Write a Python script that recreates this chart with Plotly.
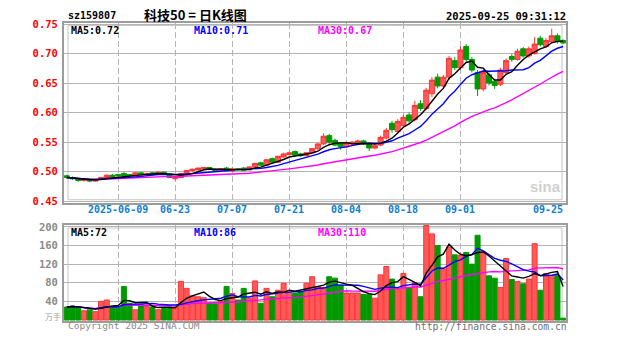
import pandas as pd
import plotly.graph_objects as go

W, H = 627, 342

# Trading calendar: weekdays from 26 May to 25 Sep 2025, market closed on 2 June
dates = [d.strftime("%Y-%m-%d") for d in pd.bdate_range("2025-05-26", "2025-09-25")
         if d.strftime("%Y-%m-%d") != "2025-06-02"]

open_ = [0.493, 0.490, 0.488, 0.485, 0.487, 0.484, 0.487, 0.490, 0.494, 0.495,
         0.497, 0.495, 0.494, 0.498, 0.495, 0.498, 0.496, 0.499, 0.496, 0.488,
         0.490, 0.497, 0.502, 0.503, 0.505, 0.507, 0.504, 0.502, 0.506, 0.501,
         0.505, 0.506, 0.503, 0.508, 0.515, 0.511, 0.522, 0.516, 0.525, 0.529,
         0.534, 0.530, 0.527, 0.532, 0.539, 0.547, 0.561, 0.553, 0.548, 0.542,
         0.547, 0.549, 0.552, 0.547, 0.540, 0.545, 0.557, 0.582, 0.568, 0.578,
         0.596, 0.588, 0.615, 0.607, 0.632, 0.660, 0.645, 0.660, 0.688, 0.676,
         0.712, 0.690, 0.668, 0.640, 0.664, 0.653, 0.648, 0.668, 0.695, 0.690,
         0.708, 0.696, 0.700, 0.726, 0.712, 0.720, 0.730, 0.722]
high = [0.495, 0.492, 0.489, 0.488, 0.488, 0.488, 0.491, 0.495, 0.496, 0.496,
        0.499, 0.496, 0.499, 0.499, 0.498, 0.499, 0.500, 0.500, 0.497, 0.491,
        0.498, 0.503, 0.505, 0.507, 0.508, 0.508, 0.505, 0.506, 0.508, 0.507,
        0.506, 0.508, 0.509, 0.515, 0.517, 0.521, 0.524, 0.527, 0.532, 0.534,
        0.536, 0.532, 0.533, 0.540, 0.548, 0.565, 0.564, 0.556, 0.550, 0.551,
        0.552, 0.554, 0.554, 0.549, 0.546, 0.561, 0.574, 0.586, 0.589, 0.596,
        0.600, 0.620, 0.621, 0.642, 0.660, 0.666, 0.664, 0.696, 0.694, 0.712,
        0.716, 0.694, 0.672, 0.672, 0.668, 0.656, 0.676, 0.692, 0.699, 0.708,
        0.711, 0.712, 0.728, 0.730, 0.726, 0.742, 0.734, 0.724]
low = [0.488, 0.486, 0.483, 0.483, 0.482, 0.483, 0.486, 0.489, 0.491, 0.492,
       0.491, 0.493, 0.493, 0.494, 0.494, 0.495, 0.495, 0.495, 0.489, 0.485,
       0.489, 0.496, 0.500, 0.502, 0.504, 0.503, 0.501, 0.501, 0.500, 0.499,
       0.502, 0.501, 0.502, 0.507, 0.510, 0.510, 0.515, 0.515, 0.523, 0.527,
       0.526, 0.525, 0.526, 0.531, 0.537, 0.545, 0.546, 0.543, 0.537, 0.541,
       0.545, 0.547, 0.545, 0.535, 0.538, 0.543, 0.555, 0.566, 0.566, 0.574,
       0.582, 0.585, 0.603, 0.604, 0.626, 0.641, 0.640, 0.655, 0.672, 0.673,
       0.686, 0.668, 0.628, 0.636, 0.646, 0.640, 0.645, 0.665, 0.686, 0.688,
       0.693, 0.693, 0.698, 0.712, 0.710, 0.718, 0.717, 0.716]
close = [0.490, 0.488, 0.485, 0.487, 0.484, 0.487, 0.490, 0.494, 0.492, 0.493,
         0.493, 0.494, 0.498, 0.495, 0.497, 0.496, 0.499, 0.496, 0.490, 0.490,
         0.497, 0.502, 0.504, 0.506, 0.507, 0.504, 0.502, 0.505, 0.501, 0.505,
         0.503, 0.502, 0.508, 0.514, 0.511, 0.520, 0.516, 0.526, 0.530, 0.532,
         0.528, 0.527, 0.532, 0.539, 0.547, 0.560, 0.550, 0.545, 0.542, 0.549,
         0.550, 0.552, 0.547, 0.540, 0.544, 0.558, 0.570, 0.571, 0.585, 0.592,
         0.586, 0.612, 0.607, 0.638, 0.655, 0.645, 0.660, 0.692, 0.676, 0.706,
         0.690, 0.672, 0.640, 0.668, 0.650, 0.646, 0.672, 0.688, 0.690, 0.704,
         0.696, 0.708, 0.716, 0.715, 0.722, 0.730, 0.720, 0.718]
# volume, 10k lots
volume = [28, 30, 27, 20, 22, 18, 40, 43, 29, 27,
          72, 36, 22, 33, 29, 28, 22, 27, 28, 28,
          83, 68, 52, 50, 48, 36, 35, 40, 72, 57,
          43, 68, 47, 84, 36, 68, 50, 64, 79, 60,
          57, 61, 79, 93, 72, 70, 93, 90, 75, 58,
          58, 58, 55, 55, 47, 97, 115, 88, 66, 100,
          70, 80, 50, 203, 185, 160, 110, 157, 140, 139,
          145, 120, 182, 146, 95, 90, 70, 132, 87, 83,
          78, 88, 164, 64, 100, 96, 96, 4]

tick_dates = ["2025-06-09", "2025-06-23", "2025-07-07", "2025-07-21",
              "2025-08-04", "2025-08-18", "2025-09-01"]
tick_text = ["2025-06-09", "06-23", "07-07", "07-21", "08-04", "08-18", "09-01"]
last_text = "09-25"
price_ticks = [0.45, 0.50, 0.55, 0.60, 0.65, 0.70, 0.75]
vol_ticks = [40, 80, 120, 160, 200]

RED, RED_EDGE, GREEN = "#ff5a5a", "#ff3434", "#009a00"
MA_COLORS = {5: "#000000", 10: "#0000ff", 30: "#ff00ff"}
GRID, FRAME = "#b4b4b4", "#9c9c9c"
DATE_BLUE = "#0a7ed2"
MONO = "DejaVu Sans Mono"
CJK = "Noto Sans CJK SC"


def px(x):
    return x / W


def py(y):
    return 1 - y / H


# panel geometry in pixels
X0, X1 = 64, 566
MAIN_T, MAIN_B = 18, 203
VOL_T, VOL_B = 226, 325

cs = pd.Series(close)
vs = pd.Series(volume)
ma = {n: cs.rolling(n, min_periods=1).mean() for n in (5, 10, 30)}
vma = {n: vs.rolling(n, min_periods=1).mean() for n in (5, 10, 30)}
bar_colors = [RED if c >= o else GREEN for o, c in zip(open_, close)]
bar_edges = [RED_EDGE if c >= o else GREEN for o, c in zip(open_, close)]

fig = go.Figure()
fig.add_trace(go.Candlestick(
    x=dates, open=open_, high=high, low=low, close=close,
    increasing=dict(line=dict(color=RED_EDGE, width=1), fillcolor=RED),
    decreasing=dict(line=dict(color=GREEN, width=1), fillcolor=GREEN),
    whiskerwidth=0, xaxis="x", yaxis="y", hoverinfo="skip"))
for n in (30, 10, 5):
    fig.add_trace(go.Scatter(x=dates, y=ma[n], mode="lines",
                             line=dict(color=MA_COLORS[n], width=1.4),
                             xaxis="x", yaxis="y", hoverinfo="skip"))

fig.add_trace(go.Bar(x=dates, y=volume, marker=dict(color=bar_colors,
                     line=dict(color=bar_edges, width=1)),
                     xaxis="x2", yaxis="y2", hoverinfo="skip"))
for n in (30, 10, 5):
    fig.add_trace(go.Scatter(x=dates, y=vma[n], mode="lines",
                             line=dict(color=MA_COLORS[n], width=1.4),
                             xaxis="x2", yaxis="y2", hoverinfo="skip"))

xcommon = dict(type="category", range=[-0.5, len(dates) - 0.5],
               domain=[px(X0), px(X1)], tickmode="array", tickvals=tick_dates,
               showticklabels=False, ticks="", showgrid=True, gridcolor=GRID,
               gridwidth=1, griddash="6px,3px", showline=True, mirror=True,
               linecolor=FRAME, linewidth=2, fixedrange=True)
ycommon = dict(ticks="", showgrid=True, gridcolor=GRID, gridwidth=1,
               zeroline=False, showline=True, mirror=True, linecolor=FRAME,
               linewidth=2, fixedrange=True, ticklabelstandoff=2)

fig.update_layout(
    width=W, height=H, margin=dict(l=0, r=0, t=0, b=0),
    paper_bgcolor="white", plot_bgcolor="white", showlegend=False,
    boxgap=0.12, boxgroupgap=0, bargap=0.12,
    xaxis=dict(**xcommon, anchor="y", rangeslider=dict(visible=False)),
    yaxis=dict(**ycommon, anchor="x", domain=[py(MAIN_B), py(MAIN_T)],
               range=[0.4475, 0.7525], tickvals=price_ticks,
               ticktext=[f"{v:.2f}" for v in price_ticks],
               tickfont=dict(family=MONO, size=10.5, color="#ff0000", weight="bold")),
    xaxis2=dict(**xcommon, anchor="y2"),
    yaxis2=dict(**ycommon, anchor="x2", domain=[py(VOL_B), py(VOL_T)],
                range=[-3, 204], tickvals=vol_ticks,
                ticktext=[str(v) for v in vol_ticks],
                tickfont=dict(family=MONO, size=10.5, color="#8a8a8a", weight="bold")),
)

# inner frame lines of both panels
for top, bot in ((MAIN_T, MAIN_B), (VOL_T, VOL_B)):
    fig.add_shape(type="rect", xref="paper", yref="paper",
                  x0=px(X0 + 4), x1=px(X1 - 4), y0=py(bot - 3), y1=py(top + 3),
                  line=dict(color="#c4c4c4", width=1), layer="below")


def label(x, y, text, color="#000000", size=10, anchor="left", family=MONO,
          weight="bold"):
    fig.add_annotation(x=px(x), y=py(y), xref="paper", yref="paper", text=text,
                       showarrow=False, xanchor=anchor, yanchor="middle",
                       font=dict(family=family, size=size, color=color,
                                 weight=weight))


# date labels under the price panel
for d, t in zip(tick_dates, tick_text):
    fig.add_annotation(x=d, y=py(210), xref="x", yref="paper", text=t,
                       showarrow=False, xanchor="center", yanchor="middle",
                       font=dict(family=MONO, size=10, color=DATE_BLUE,
                                 weight="bold"))
fig.add_annotation(x=dates[-1], y=py(210), xref="x", yref="paper",
                   text=last_text, showarrow=False, xanchor="right",
                   yanchor="middle", xshift=2,
                   font=dict(family=MONO, size=10, color=DATE_BLUE, weight="bold"))

# header
label(66, 11, "sz159807", size=10)
label(195, 10, "科技50 = 日K线图", size=13, anchor="center", family=CJK)
label(568, 11, "2025-09-25 09:31:12", size=10.5, anchor="right")

# moving-average readouts
label(69, 26, f"MA5:{ma[5].iloc[-1]:.2f}", color=MA_COLORS[5])
label(192, 26, f"MA10:{ma[10].iloc[-1]:.2f}", color=MA_COLORS[10])
label(316, 26, f"MA30:{ma[30].iloc[-1]:.2f}", color=MA_COLORS[30])
label(69, 234, f"MA5:{vma[5].iloc[-1]:.0f}", color=MA_COLORS[5])
label(192, 234, f"MA10:{vma[10].iloc[-1]:.0f}", color=MA_COLORS[10])
label(316, 234, f"MA30:{vma[30].iloc[-1]:.0f}", color=MA_COLORS[30])

# watermark and footer
label(545, 186, "sina", color="#d0d0d0", size=15, anchor="center",
      family="Liberation Sans", weight="bold")
label(53, 320, "万手", color="#a0a0a0", size=8, anchor="center", family=CJK,
      weight="normal")
label(66, 329, "Copyright 2025 SINA.COM", color="#8a8a8a", size=9.5,
      weight="normal")
label(569, 330, "http://finance.sina.com.cn", color="#707070", size=9.7,
      anchor="right", weight="normal")

fig.write_html("out.html")
